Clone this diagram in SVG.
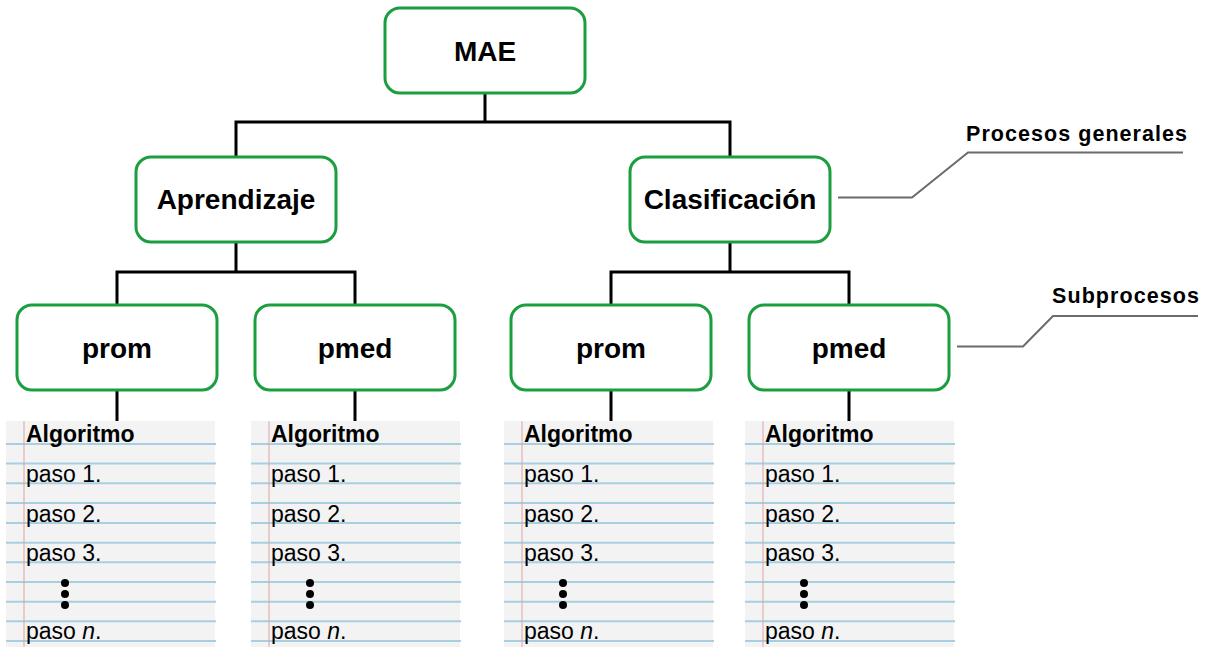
<svg xmlns="http://www.w3.org/2000/svg" width="1210" height="647" viewBox="0 0 1210 647">
<style>
.box{fill:#fff;stroke:#1a9e3f;stroke-width:3}
.lbl{font-family:"Liberation Sans",Arial,sans-serif;font-weight:bold;font-size:28px;fill:#000;text-anchor:middle}
.conn{fill:none;stroke:#000;stroke-width:3;stroke-linejoin:miter}
.call{fill:none;stroke:#6b6b6b;stroke-width:2}
.ctext{font-family:"Liberation Sans",Arial,sans-serif;font-weight:bold;font-size:21.5px;fill:#000}
.paper{fill:#f3f3f3}
.rule{stroke:#a8cfe0;stroke-width:2}
.margin{stroke:#e0a3a3;stroke-width:1}
.nt{font-family:"Liberation Sans",Arial,sans-serif;font-size:23px;fill:#000}
.nb{font-weight:bold}
.dot{fill:#000}
</style>
<defs>
<g id="rules">
<line class="rule" x1="0" y1="444" x2="210" y2="444"/>
<line class="rule" x1="0" y1="463.5" x2="210" y2="463.5"/>
<line class="rule" x1="0" y1="483.2" x2="210" y2="483.2"/>
<line class="rule" x1="0" y1="503" x2="210" y2="503"/>
<line class="rule" x1="0" y1="523" x2="210" y2="523"/>
<line class="rule" x1="0" y1="542.7" x2="210" y2="542.7"/>
<line class="rule" x1="0" y1="562.3" x2="210" y2="562.3"/>
<line class="rule" x1="0" y1="582" x2="210" y2="582"/>
<line class="rule" x1="0" y1="601.7" x2="210" y2="601.7"/>
<line class="rule" x1="0" y1="621.3" x2="210" y2="621.3"/>
<line class="rule" x1="0" y1="641" x2="210" y2="641"/>
</g>
</defs>

<g id="connectors">
<path class="conn" d="M485,93 V122 M236,156 V122 H730 V156"/>
<path class="conn" d="M236,243 V272 M117,305 V272 H355 V305"/>
<path class="conn" d="M730,243 V272 M611,305 V272 H849 V305"/>
<path class="conn" d="M117,391 V421 M355,391 V421 M611,391 V421 M849,391 V421"/>
<polyline class="call" points="838,197.5 912,197.5 968,152.5 1183,152.5"/>
<polyline class="call" points="957,346.5 1023,346.5 1053,316 1198,316"/>
</g>

<g id="node-mae">
<rect class="box" x="385" y="8" width="200" height="85" rx="15"/>
<text class="lbl" x="485" y="61">MAE</text>
</g>
<g id="node-aprendizaje">
<rect class="box" x="136" y="157" width="200" height="85" rx="15"/>
<text class="lbl" x="236" y="209">Aprendizaje</text>
</g>
<g id="node-clasificacion">
<rect class="box" x="630" y="157" width="200" height="85" rx="15"/>
<text class="lbl" x="730" y="209">Clasificación</text>
</g>
<g id="node-prom1">
<rect class="box" x="17" y="305" width="200" height="85" rx="15"/>
<text class="lbl" x="117" y="358">prom</text>
</g>
<g id="node-pmed1">
<rect class="box" x="255" y="305" width="200" height="85" rx="15"/>
<text class="lbl" x="355" y="358">pmed</text>
</g>
<g id="node-prom2">
<rect class="box" x="511" y="305" width="200" height="85" rx="15"/>
<text class="lbl" x="611" y="358">prom</text>
</g>
<g id="node-pmed2">
<rect class="box" x="749" y="305" width="200" height="85" rx="15"/>
<text class="lbl" x="849" y="358">pmed</text>
</g>

<g id="label-procesos">
<text class="ctext" x="966" y="141" textLength="221" lengthAdjust="spacing">Procesos generales</text>
</g>
<g id="label-subprocesos">
<text class="ctext" x="1052" y="303" textLength="147" lengthAdjust="spacing">Subprocesos</text>
</g>

<g id="notebook-1" transform="translate(6,0)">
<rect class="paper" x="0" y="421" width="209" height="226"/>
<use href="#rules"/>
<line class="margin" x1="18" y1="421" x2="18" y2="647"/>
<text class="nt nb" x="20" y="442">Algoritmo</text>
<text class="nt" x="20" y="482">paso 1.</text>
<text class="nt" x="20" y="522">paso 2.</text>
<text class="nt" x="20" y="561">paso 3.</text>
<circle class="dot" cx="59" cy="583" r="4"/><circle class="dot" cx="59" cy="594" r="4"/><circle class="dot" cx="59" cy="605" r="4"/>
<text class="nt" x="20" y="639">paso <tspan font-style="italic">n</tspan>.</text>
</g>
<g id="notebook-2" transform="translate(251,0)">
<rect class="paper" x="0" y="421" width="209" height="226"/>
<use href="#rules"/>
<line class="margin" x1="18" y1="421" x2="18" y2="647"/>
<text class="nt nb" x="20" y="442">Algoritmo</text>
<text class="nt" x="20" y="482">paso 1.</text>
<text class="nt" x="20" y="522">paso 2.</text>
<text class="nt" x="20" y="561">paso 3.</text>
<circle class="dot" cx="59" cy="583" r="4"/><circle class="dot" cx="59" cy="594" r="4"/><circle class="dot" cx="59" cy="605" r="4"/>
<text class="nt" x="20" y="639">paso <tspan font-style="italic">n</tspan>.</text>
</g>
<g id="notebook-3" transform="translate(504,0)">
<rect class="paper" x="0" y="421" width="209" height="226"/>
<use href="#rules"/>
<line class="margin" x1="18" y1="421" x2="18" y2="647"/>
<text class="nt nb" x="20" y="442">Algoritmo</text>
<text class="nt" x="20" y="482">paso 1.</text>
<text class="nt" x="20" y="522">paso 2.</text>
<text class="nt" x="20" y="561">paso 3.</text>
<circle class="dot" cx="59" cy="583" r="4"/><circle class="dot" cx="59" cy="594" r="4"/><circle class="dot" cx="59" cy="605" r="4"/>
<text class="nt" x="20" y="639">paso <tspan font-style="italic">n</tspan>.</text>
</g>
<g id="notebook-4" transform="translate(745,0)">
<rect class="paper" x="0" y="421" width="209" height="226"/>
<use href="#rules"/>
<line class="margin" x1="18" y1="421" x2="18" y2="647"/>
<text class="nt nb" x="20" y="442">Algoritmo</text>
<text class="nt" x="20" y="482">paso 1.</text>
<text class="nt" x="20" y="522">paso 2.</text>
<text class="nt" x="20" y="561">paso 3.</text>
<circle class="dot" cx="59" cy="583" r="4"/><circle class="dot" cx="59" cy="594" r="4"/><circle class="dot" cx="59" cy="605" r="4"/>
<text class="nt" x="20" y="639">paso <tspan font-style="italic">n</tspan>.</text>
</g>
</svg>
